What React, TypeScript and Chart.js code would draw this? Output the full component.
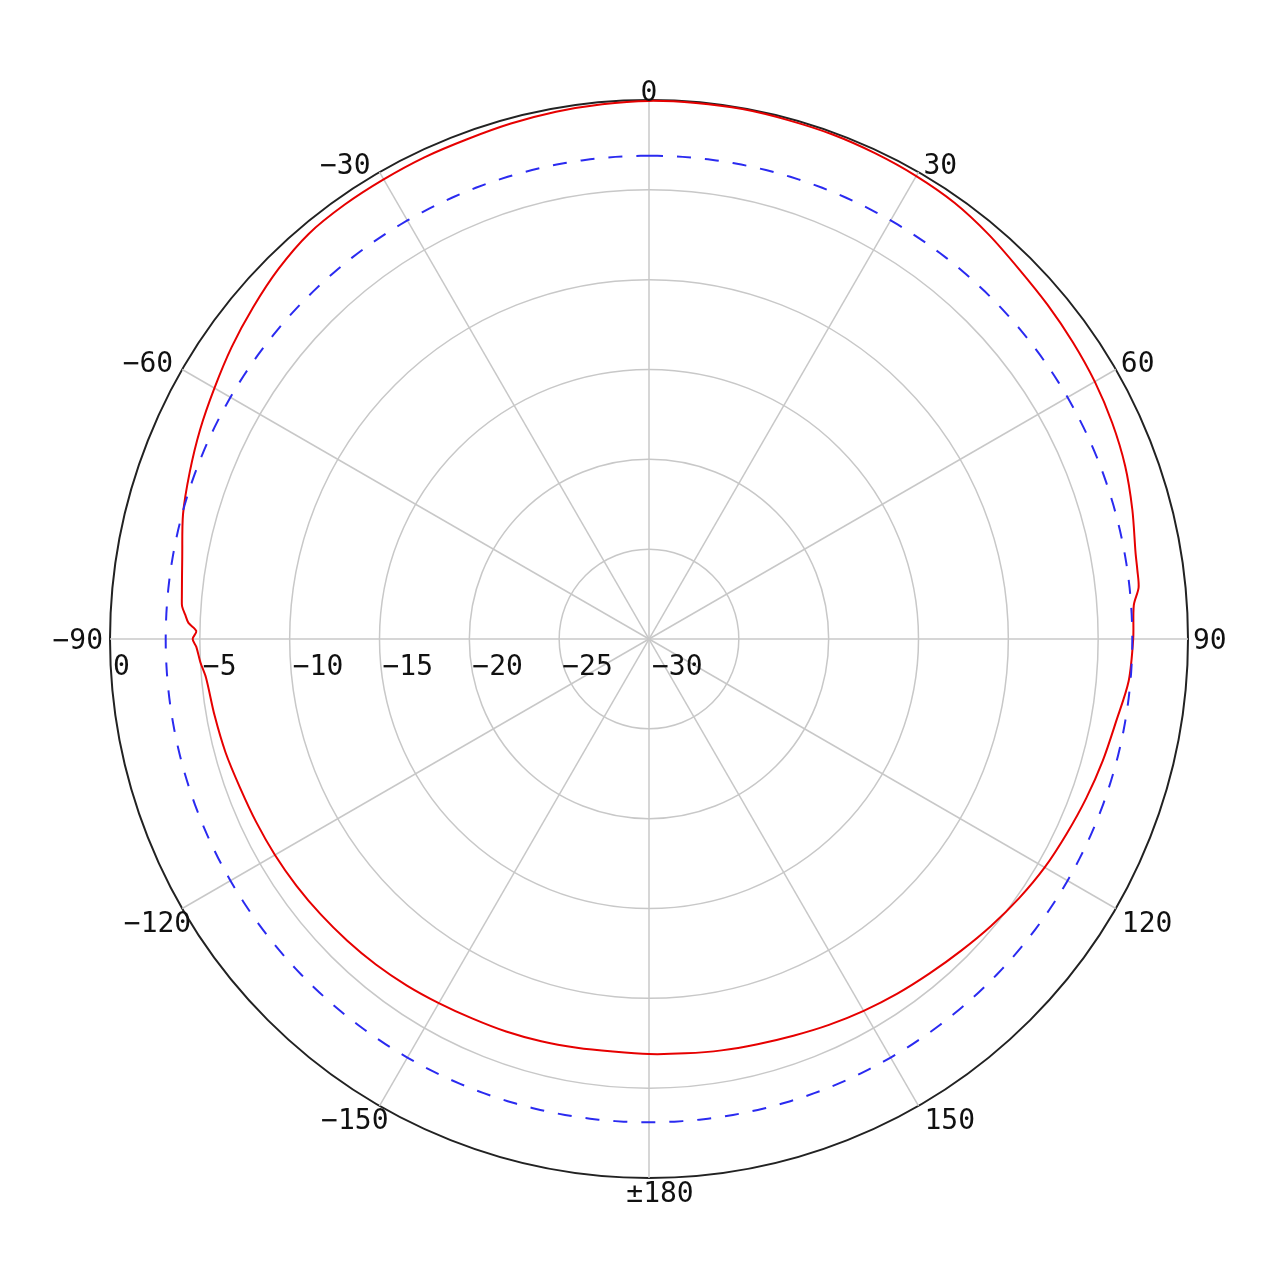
import React, { useEffect, useRef } from "react";
import { Chart, registerables } from "chart.js";

Chart.register(...registerables);

// one category per degree, clockwise from the top (0 = boresight)
const degreeLabels = Array.from({ length: 360 }, (_, i) => String(i));

// measured pattern (degrees, dB)
const patternAngles = [
  0, 5, 10, 15, 20, 25, 30, 35, 40, 45, 50, 55, 60, 65, 70, 75, 80, 82, 84, 86,
  90, 95, 100, 105, 110, 115, 120, 125, 130, 135, 140, 145, 150, 155, 160, 165,
  170, 175, 180, -175, -170, -165, -160, -155, -150, -145, -140, -135, -130,
  -125, -120, -115, -110, -105, -100, -95, -93, -91, -90, -89, -88, -87, -86,
  -85, -80, -75, -70, -65, -60, -55, -50, -45, -40, -35, -30, -25, -20, -15,
  -10, -5,
];
const patternDb = [
  -0.05, -0.05, -0.05, -0.1, -0.12, -0.18, -0.25, -0.36, -0.6, -0.88, -1.05,
  -1.2, -1.35, -1.55, -1.8, -2.15, -2.5, -2.55, -2.6, -2.95,
  -3.05, -3.2, -3.6, -3.85, -4.1, -4.35, -4.57, -4.85, -5.15, -5.45, -5.7,
  -5.9, -6.1, -6.3, -6.5, -6.65,
  -6.75, -6.85, -6.9, -6.95, -6.9, -6.82, -6.75, -6.7, -6.6, -6.47, -6.35,
  -6.25, -6.15,
  -6.05, -5.96, -5.88, -5.78, -5.6, -5.45, -5.25, -5.0, -4.8, -4.6, -4.8,
  -4.35, -4.15, -3.95,
  -3.9, -3.62, -3.15, -2.8, -2.43, -2.07, -1.65, -1.25, -0.85, -0.55, -0.48,
  -0.46, -0.42, -0.4, -0.3,
  -0.2, -0.12,
];

// dashed reference level
const referenceDb = -3.1;

const radialTicks = [0, -5, -10, -15, -20, -25, -30];
const angleTicks = [0, 30, 60, 90, 120, 150, 180, -150, -120, -90, -60, -30];
const angleTickText = ["0", "30", "60", "90", "120", "150", "±180", "−150", "−120", "−90", "−60", "−30"];

const FONT_PX = 28;
const DIGIT_H = 20.4;

const fmtDb = (v: number) => (v < 0 ? "−" + Math.abs(v) : String(v));

const measuredSeries: (number | null)[] = degreeLabels.map(() => null);
patternAngles.forEach((a, k) => {
  measuredSeries[(a + 360) % 360] = patternDb[k];
});
const referenceSeries = degreeLabels.map(() => referenceDb);

const textPlugin = {
  id: "polarText",
  afterDatasetsDraw(chart: any) {
    const scale = chart.scales.r;
    const ctx: CanvasRenderingContext2D = chart.ctx;
    const cx = scale.xCenter;
    const cy = scale.yCenter;
    const R = scale.drawingArea;
    ctx.save();
    ctx.font = `${FONT_PX}px "DejaVu Sans Mono", monospace`;
    ctx.fillStyle = "#111";
    ctx.textBaseline = "alphabetic";

    // radial values along the left horizontal axis
    ctx.textAlign = "left";
    radialTicks.forEach((v) => {
      const d = scale.getDistanceFromCenterForValue(v);
      ctx.fillText(fmtDb(v), cx - d + 3, cy + 36);
    });

    // angle labels round the outer ring
    angleTicks.forEach((a, k) => {
      const p = scale.getPointPosition((a + 360) % 360, R);
      const text = angleTickText[k];
      if (a === 0) {
        ctx.textAlign = "center";
        ctx.fillText(text, p.x, p.y + 1);
      } else if (a === 180) {
        ctx.textAlign = "center";
        ctx.fillText(text, p.x + 11, p.y + 4 + DIGIT_H);
      } else if (a === 90) {
        ctx.textAlign = "left";
        ctx.fillText(text, p.x + 5, p.y + DIGIT_H / 2);
      } else if (a === -90) {
        ctx.textAlign = "right";
        ctx.fillText(text, p.x - 7, p.y + DIGIT_H / 2);
      } else if (a > 0 && a < 90) {
        ctx.textAlign = "left";
        ctx.fillText(text, p.x + 5, p.y + 2);
      } else if (a > 90) {
        ctx.textAlign = "left";
        ctx.fillText(text, p.x + 6, p.y + 3 + DIGIT_H);
      } else if (a < -90) {
        ctx.textAlign = "right";
        ctx.fillText(text, p.x + 9, p.y + 3 + DIGIT_H);
      } else {
        ctx.textAlign = "right";
        ctx.fillText(text, p.x - 9, p.y + 2);
      }
    });
    ctx.restore();
  },
};

const App: React.FC = () => {
  const canvasRef = useRef<HTMLCanvasElement | null>(null);
  const chartRef = useRef<Chart | null>(null);

  useEffect(() => {
    const ctx = canvasRef.current?.getContext("2d");
    if (!ctx) return;

    chartRef.current = new Chart(ctx, {
      type: "radar",
      data: {
        labels: degreeLabels,
        datasets: [
          {
            label: "reference",
            data: referenceSeries,
            borderColor: "#2a2af0",
            borderWidth: 2,
            borderDash: [14, 14],
            pointRadius: 0,
            fill: false,
            tension: 0,
          },
          {
            label: "measured",
            data: measuredSeries,
            borderColor: "#e60000",
            borderWidth: 2,
            pointRadius: 0,
            fill: false,
            spanGaps: true,
            tension: 0.3,
          },
        ],
      },
      options: {
        responsive: false,
        animation: false,
        layout: { padding: { left: 102, top: 92, right: 84, bottom: 90 } },
        plugins: {
          legend: { display: false },
          tooltip: { enabled: false },
        },
        scales: {
          r: {
            min: -30,
            max: 0,
            startAngle: 0,
            ticks: { stepSize: 5, display: false },
            pointLabels: { display: false },
            grid: {
              circular: true,
              color: (c: any) => (c.tick && c.tick.value === 0 ? "#222" : "#c8c8c8"),
              lineWidth: (c: any) => (c.tick && c.tick.value === 0 ? 2 : 1.5),
            },
            angleLines: {
              color: "#c8c8c8",
              lineWidth: (c: any) => (c.index % 30 === 0 ? 1.5 : 0),
            },
          },
        },
      },
      plugins: [textPlugin],
    });

    return () => {
      if (chartRef.current) {
        chartRef.current.destroy();
        chartRef.current = null;
      }
    };
  }, []);

  return (
    <div style={{ width: 1264, height: 1260 }}>
      <canvas ref={canvasRef} width={1264} height={1260} style={{ display: "block" }} />
    </div>
  );
};

export default App;
